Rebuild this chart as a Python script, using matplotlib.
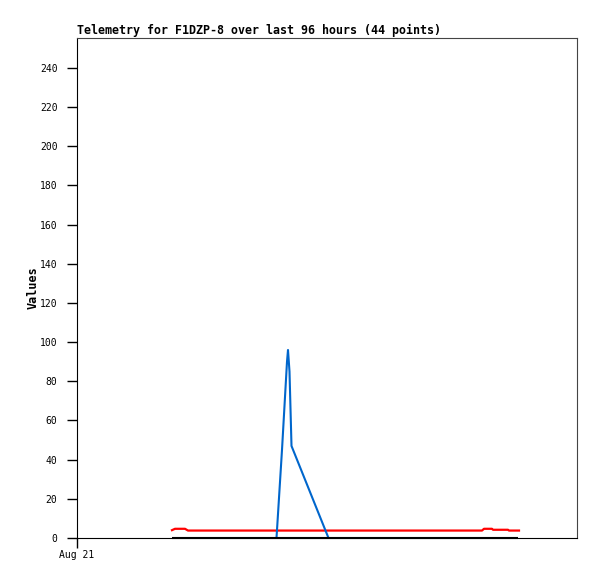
import matplotlib
matplotlib.use('Agg')
import matplotlib.pyplot as plt

# hours since Aug 21 00:00
red_x = [19.0, 19.6, 20.6, 21.6, 22.2, 40.0, 60.0, 81.0, 81.4, 83.0, 83.2, 86.2, 86.4, 88.4]
red_y = [4.0, 4.7, 4.7, 4.7, 3.8, 3.8, 3.8, 3.8, 4.7, 4.7, 4.2, 4.2, 3.8, 3.8]

blue_x = [39.9, 41.0, 42.0, 42.2, 42.5, 42.9, 50.3]
blue_y = [0.0, 45.0, 90.0, 96.0, 85.0, 47.0, 0.0]

black_x = [19.0, 88.2]
black_y = [0.0, 0.0]

yticks = list(range(0, 241, 20))
xtick_pos = [0]
xtick_lab = ['Aug 21']

fig = plt.figure(figsize=(5.97, 5.79), dpi=100)
ax = fig.add_axes([77/597, 41/579, 500/597, 500/579])

ax.plot(black_x, black_y, color='black', lw=1.5, solid_capstyle='butt', clip_on=False, zorder=4)
ax.plot(red_x, red_y, color='#ff0000', lw=1.6)
ax.plot(blue_x, blue_y, color='#0066cc', lw=1.5)

ax.set_xlim(0, 100)
ax.set_ylim(0, 255.3)
ax.set_yticks(yticks)
ax.set_xticks(xtick_pos)
ax.set_xticklabels(xtick_lab)

mono = 'DejaVu Sans Mono'
for lab in ax.get_yticklabels() + ax.get_xticklabels():
    lab.set_family(mono)
    lab.set_fontsize(7)
ax.tick_params(direction='out', length=7, width=1)
ax.tick_params(axis='y', pad=7)
ax.tick_params(axis='x', pad=2)
ax.spines['top'].set_color('#444444')
ax.spines['right'].set_color('#444444')

ax.set_title('Telemetry for F1DZP-8 over last 96 hours (44 points)', loc='left',
             family=mono, fontweight='bold', fontsize=8.35, pad=3)
ax.set_ylabel('Values', family=mono, fontweight='bold', fontsize=8.5, labelpad=0)

fig.savefig('out.png', dpi=100)
